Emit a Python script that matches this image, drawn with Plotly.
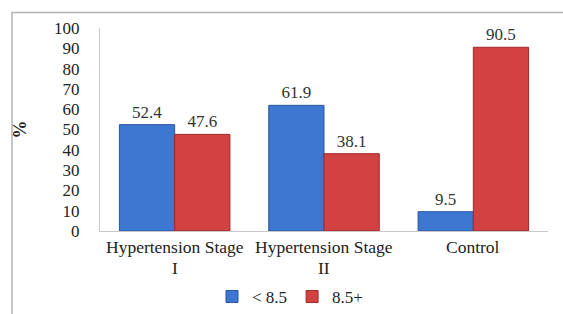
import plotly.graph_objects as go

categories = ["Hypertension Stage<br>I", "Hypertension Stage<br>II", "Control"]
low_vals = [52.4, 61.9, 9.5]
high_vals = [47.6, 38.1, 90.5]
series_names = ["< 8.5", "8.5+"]
y_ticks = [0, 10, 20, 30, 40, 50, 60, 70, 80, 90, 100]

W, H = 563, 314
L, R, T, B = 100, 15, 28, 83
pw = W - L - R
ph = H - T - B

def px_x(px):
    return (px - L) / pw

def px_y(py):
    return (H - B - py) / ph

font_family = "Liberation Serif"
txt_color = "#222222"

fig = go.Figure()
fig.add_trace(go.Bar(
    x=categories, y=low_vals, name=series_names[0],
    marker=dict(color="#3d77d2", line=dict(color="#2a55a0", width=1)),
    text=[f"{v:.1f}" for v in low_vals], textposition="outside",
    textfont=dict(family=font_family, size=17, color="#333333"),
    cliponaxis=False,
))
fig.add_trace(go.Bar(
    x=categories, y=high_vals, name=series_names[1],
    marker=dict(color="#d34242", line=dict(color="#9e2a2a", width=1)),
    text=[f"{v:.1f}" for v in high_vals], textposition="outside",
    textfont=dict(family=font_family, size=17, color="#333333"),
    cliponaxis=False,
))

# category labels as annotations (tighter line spacing than tick labels)
annotations = []
for cat in categories:
    lines = cat.split("<br>")
    for i, line in enumerate(lines):
        annotations.append(dict(
            x=cat, xref="x", y=px_y(247 + 21 * i), yref="paper",
            text=line, showarrow=False, xanchor="center", yanchor="middle",
            borderpad=0,
            font=dict(family=font_family, size=17.5, color=txt_color),
        ))

fig.update_layout(
    width=W, height=H,
    margin=dict(l=L, r=R, t=T, b=B, autoexpand=False),
    paper_bgcolor="white", plot_bgcolor="white",
    barmode="group", bargap=0.26, bargroupgap=0,
    font=dict(family=font_family, size=17, color=txt_color),
    showlegend=True,
    legend=dict(orientation="h", x=px_x(290), xanchor="center",
                y=px_y(297), yanchor="middle",
                font=dict(family=font_family, size=17, color=txt_color),
                itemwidth=30, tracegroupgap=0),
    xaxis=dict(showline=True, linecolor="#c8c8c8", linewidth=1,
               ticks="", showticklabels=False,
               showgrid=False, zeroline=False, automargin=False),
    yaxis=dict(range=[0, 100], tickvals=y_ticks, showgrid=False,
               showline=True, linecolor="#c8c8c8", linewidth=1,
               ticks="outside", ticklen=16, tickcolor="rgba(0,0,0,0)",
               tickfont=dict(family=font_family, size=17, color=txt_color),
               zeroline=False, automargin=False,
               title=dict(text="<b>%</b>", standoff=22,
                          font=dict(family=font_family, size=18, color=txt_color))),
    annotations=annotations,
    shapes=[
        dict(type="rect", xref="paper", yref="paper",
             x0=px_x(12), x1=px_x(580), y0=px_y(12.5), y1=px_y(330),
             line=dict(color="#b4b4b4", width=1.5), fillcolor="rgba(0,0,0,0)"),
    ],
)

fig.write_html("out.html", config={"displayModeBar": False},
               post_script="document.body.style.margin='0';document.body.style.overflow='hidden';")
